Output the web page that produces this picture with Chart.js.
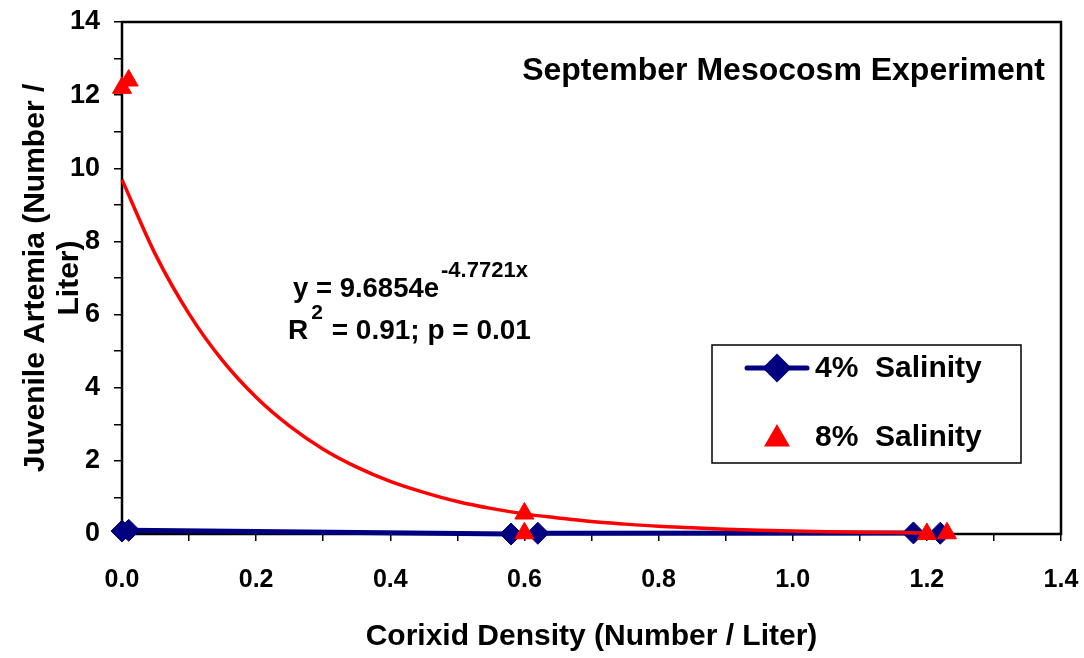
<!DOCTYPE html>
<html><head><meta charset="utf-8">
<script src="https://cdn.jsdelivr.net/npm/chart.js@4.4.0/dist/chart.umd.min.js"></script>
<style>html,body{margin:0;padding:0;background:#fff;} #wrap{width:1084px;height:658px;position:relative;} canvas{display:block;}</style>
</head><body><div id="wrap"><canvas id="c" width="1084" height="658" style="width:1084px;height:658px"></canvas></div>
<script>
// ---- data ----
const salinity4X = [0.0, 0.01, 0.58, 0.62, 1.18, 1.22];
const salinity4Y = [0.08, 0.10, 0.0, 0.02, 0.03, 0.02];
const salinity8X = [0.0, 0.01, 0.60, 0.60, 1.20, 1.23];
const salinity8Y = [12.2, 12.4, 0.56, 0.02, 0.0, 0.02];
const trendX = [0.00,0.05,0.10,0.15,0.20,0.25,0.30,0.35,0.40,0.45,0.50,0.55,0.60,0.65,0.70,0.75,0.80,0.85,0.90,0.95,1.00,1.05,1.10,1.15,1.20];
const trendY = [9.69,7.64,6.02,4.74,3.74,2.95,2.32,1.83,1.44,1.14,0.89,0.70,0.55,0.44,0.34,0.27,0.21,0.17,0.13,0.10,0.08,0.06,0.05,0.04,0.03];
const xTickLabels = ['0.0','0.2','0.4','0.6','0.8','1.0','1.2','1.4'];
const yTickLabels = ['0','2','4','6','8','10','12','14'];
const seriesLabels = ['4% Salinity','8% Salinity'];
const chartTitle = 'September Mesocosm Experiment';
const xTitle = 'Corixid Density (Number / Liter)';
const yTitle = ['Juvenile Artemia (Number /','Liter)'];
const eqMain = 'y = 9.6854e';
const eqExp = '-4.7721x';
const r2Parts = ['R', '2', ' = 0.91; p = 0.01'];

const FONT = '"Liberation Sans", Arial, Helvetica, sans-serif';
const BLUE = '#000080';
const RED = '#FF0000';

const toPts = (xs, ys) => xs.map((x, i) => ({x: x, y: ys[i]}));

const framePlugin = {
  id: 'frame',
  beforeDatasetsDraw(chart) {
    const {ctx, chartArea: a} = chart;
    ctx.save();
    ctx.strokeStyle = '#000';
    ctx.lineWidth = 2.5;
    ctx.strokeRect(a.left, a.top, a.right - a.left, a.bottom - a.top);
    ctx.restore();
  }
};

const annotPlugin = {
  id: 'annot',
  afterDraw(chart) {
    const {ctx, chartArea: a} = chart;
    const H = Chart.helpers;
    ctx.save();
    ctx.fillStyle = '#000';
    // title
    ctx.font = 'bold 32px ' + FONT;
    ctx.textAlign = 'right';
    ctx.textBaseline = 'middle';
    ctx.fillText(chartTitle, a.right - 16, a.top + 49);
    // equation
    ctx.textAlign = 'left';
    ctx.font = 'bold 27.5px ' + FONT;
    let x = 293;
    ctx.fillText(eqMain, x, 289);
    x += ctx.measureText(eqMain).width;
    ctx.font = 'bold 22px ' + FONT;
    ctx.fillText(eqExp, x + 2, 271);
    // R2 line
    ctx.font = 'bold 28px ' + FONT;
    x = 288;
    ctx.fillText(r2Parts[0], x, 331);
    x += ctx.measureText(r2Parts[0]).width;
    ctx.font = 'bold 21px ' + FONT;
    ctx.fillText(r2Parts[1], x + 3, 313);
    x += ctx.measureText(r2Parts[1]).width + 4;
    ctx.font = 'bold 28px ' + FONT;
    ctx.fillText(r2Parts[2], x, 331);

    // legend
    const lx = 712, ly = 345, lw = 309, lh = 118;
    ctx.fillStyle = '#fff';
    ctx.fillRect(lx, ly, lw, lh);
    ctx.strokeStyle = '#000';
    ctx.lineWidth = 1.5;
    ctx.strokeRect(lx, ly, lw, lh);
    const ds = chart.data.datasets;
    const y1 = 368, y2 = 437;
    ctx.strokeStyle = ds[0].borderColor;
    ctx.lineWidth = 5;
    ctx.lineCap = 'round';
    ctx.beginPath();
    ctx.moveTo(747, y1); ctx.lineTo(807, y1);
    ctx.stroke();
    ctx.fillStyle = ds[0].pointBackgroundColor;
    ctx.strokeStyle = ds[0].pointBorderColor;
    H.drawPoint(ctx, {pointStyle: 'rectRot', radius: 11, rotation: 0, borderWidth: 1}, 777, y1);
    ctx.fillStyle = ds[1].pointBackgroundColor;
    ctx.strokeStyle = ds[1].pointBorderColor;
    H.drawPoint(ctx, {pointStyle: 'triangle', radius: 10, rotation: 0, borderWidth: 1}, 777, y2 + 2);
    ctx.fillStyle = '#000';
    ctx.font = 'bold 30px ' + FONT;
    ctx.textBaseline = 'middle';
    ctx.fillText(ds[0].label.replace(' ', '  '), 815, y1 + 1);
    ctx.fillText(ds[1].label.replace(' ', '  '), 815, y2 + 1);
    ctx.restore();
  }
};

const ctxEl = document.getElementById('c');
new Chart(ctxEl, {
  type: 'scatter',
  data: {
    datasets: [
      {
        label: seriesLabels[0],
        data: toPts(salinity4X, salinity4Y),
        showLine: true,
        borderColor: BLUE,
        borderWidth: 5,
        pointStyle: 'rectRot',
        pointRadius: 11,
        pointBackgroundColor: BLUE,
        pointBorderColor: BLUE,
        pointBorderWidth: 1,
        clip: false,
        order: 3
      },
      {
        label: seriesLabels[1],
        data: toPts(salinity8X, salinity8Y),
        showLine: false,
        pointStyle: 'triangle',
        pointRadius: 11,
        pointBackgroundColor: RED,
        pointBorderColor: RED,
        pointBorderWidth: 1,
        clip: false,
        order: 1
      },
      {
        label: 'trend',
        data: toPts(trendX, trendY),
        showLine: true,
        borderColor: RED,
        borderWidth: 3.5,
        pointRadius: 0,
        cubicInterpolationMode: 'monotone',
        clip: false,
        order: 2
      }
    ]
  },
  options: {
    responsive: false,
    animation: false,
    devicePixelRatio: 1,
    layout: {padding: {left: 0, right: 23, top: 22, bottom: 0}},
    plugins: {legend: {display: false}, tooltip: {enabled: false}},
    scales: {
      x: {
        type: 'linear', min: 0, max: 1.4,
        afterFit(s) { s.height = 124; s.paddingLeft = 0; s.paddingRight = 0; },
        border: {display: false},
        grid: {display: true, drawOnChartArea: false, drawTicks: true, tickLength: 7, color: '#000', lineWidth: 1.5},
        ticks: {
          stepSize: 0.1, autoSkip: false, maxRotation: 0, padding: 24,
          color: '#000', font: {family: FONT, size: 25, weight: 'bold'},
          callback: (v, i) => (i % 2 === 0 ? xTickLabels[i / 2] : '')
        },
        title: {display: true, text: xTitle, color: '#000', font: {family: FONT, size: 30, weight: 'bold'}, padding: {top: 0, bottom: 3}}
      },
      y: {
        type: 'linear', min: 0, max: 14,
        afterFit(s) { s.width = 122; s.paddingTop = 0; s.paddingBottom = 0; },
        border: {display: false},
        grid: {display: true, drawOnChartArea: false, drawTicks: true, tickLength: 8, color: '#000', lineWidth: 1.5},
        ticks: {
          stepSize: 1, autoSkip: false, padding: 14,
          color: '#000', font: {family: FONT, size: 27, weight: 'bold'},
          callback: (v, i) => (i % 2 === 0 ? yTickLabels[i / 2] : '')
        },
        title: {display: true, text: yTitle, color: '#000', font: {family: FONT, size: 30, weight: 'bold', lineHeight: 1.15}, padding: {top: 18, bottom: 0}}
      }
    }
  },
  plugins: [framePlugin, annotPlugin]
});
</script></body></html>
